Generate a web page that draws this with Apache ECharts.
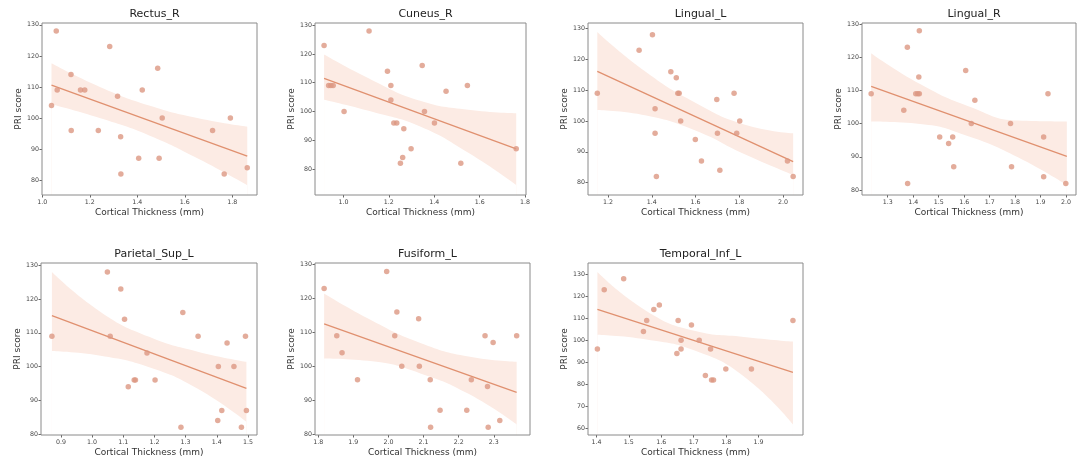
<!DOCTYPE html>
<html>
<head>
    <meta http-equiv="Content-Type" content="text/html; charset=UTF-8">
    <script type="text/javascript" src="https://cdn.jsdelivr.net/npm/echarts@6/dist/echarts.min.js" charset="utf-8"></script>
    <style>
        html, body { margin: 0; padding: 0; background: #fff; }
        #main { width: 1081px; height: 458px; }
    </style>
</head>
<body>
<div id="main"></div>
<script>
    // 脑区名称
    var regions = ['Rectus_R', 'Cuneus_R', 'Lingual_L', 'Lingual_R', 'Parietal_Sup_L', 'Fusiform_L', 'Temporal_Inf_L'];

    // 皮层厚度 / PRI 分数
    var rectusX = [1.039, 1.059, 1.063, 1.121, 1.122, 1.161, 1.179, 1.236, 1.284, 1.317, 1.330, 1.331, 1.406, 1.421, 1.486, 1.492, 1.505, 1.717, 1.766, 1.792, 1.863];
    var rectusY = [104, 128, 109, 114, 96, 109, 109, 96, 123, 107, 94, 82, 87, 109, 116, 87, 100, 96, 82, 100, 84];
    var cuneusX = [0.915, 0.935, 0.945, 0.955, 1.003, 1.113, 1.194, 1.209, 1.209, 1.222, 1.235, 1.251, 1.261, 1.266, 1.298, 1.347, 1.357, 1.401, 1.452, 1.517, 1.546, 1.761];
    var cuneusY = [123, 109, 109, 109, 100, 128, 114, 109, 104, 96, 96, 82, 84, 94, 87, 116, 100, 96, 107, 82, 109, 87];
    var lingualLX = [1.151, 1.342, 1.403, 1.415, 1.415, 1.421, 1.487, 1.512, 1.519, 1.525, 1.532, 1.599, 1.627, 1.697, 1.700, 1.711, 1.776, 1.788, 1.802, 2.020, 2.046];
    var lingualLY = [109, 123, 128, 104, 96, 82, 116, 114, 109, 109, 100, 94, 87, 107, 96, 84, 109, 96, 100, 87, 82];
    var lingualRX = [1.235, 1.363, 1.377, 1.378, 1.410, 1.418, 1.422, 1.424, 1.424, 1.504, 1.539, 1.555, 1.559, 1.606, 1.628, 1.642, 1.782, 1.786, 1.912, 1.912, 1.929, 1.999];
    var lingualRY = [109, 104, 123, 82, 109, 109, 114, 109, 128, 96, 94, 96, 87, 116, 100, 107, 100, 87, 96, 84, 109, 82];
    var parietalX = [0.871, 1.049, 1.058, 1.092, 1.104, 1.116, 1.135, 1.139, 1.176, 1.202, 1.285, 1.291, 1.340, 1.403, 1.405, 1.416, 1.433, 1.455, 1.479, 1.492, 1.495];
    var parietalY = [109, 128, 109, 123, 114, 94, 96, 96, 104, 96, 82, 116, 109, 84, 100, 87, 107, 100, 82, 109, 87];
    var fusiformX = [1.817, 1.853, 1.868, 1.912, 1.995, 2.018, 2.024, 2.038, 2.086, 2.088, 2.119, 2.120, 2.147, 2.223, 2.236, 2.275, 2.282, 2.284, 2.298, 2.317, 2.365];
    var fusiformY = [123, 109, 104, 96, 128, 109, 116, 100, 114, 100, 96, 82, 87, 87, 96, 109, 94, 82, 107, 84, 109];
    var temporalX = [1.403, 1.424, 1.484, 1.545, 1.555, 1.577, 1.594, 1.648, 1.652, 1.661, 1.661, 1.693, 1.717, 1.736, 1.752, 1.755, 1.761, 1.799, 1.878, 2.006];
    var temporalY = [96, 123, 128, 104, 109, 114, 116, 94, 109, 100, 96, 107, 100, 84, 96, 82, 82, 87, 87, 109];

    // 回归线两端
    var rectusFit = [[1.039, 110.6], [1.863, 87.7]];
    var cuneusFit = [[0.915, 111.5], [1.761, 87.0]];
    var lingualLFit = [[1.151, 116.1], [2.046, 86.8]];
    var lingualRFit = [[1.235, 111.2], [2.003, 90.1]];
    var parietalFit = [[0.871, 115.1], [1.495, 93.5]];
    var fusiformFit = [[1.817, 112.5], [2.365, 92.3]];
    var temporalFit = [[1.403, 114.0], [2.006, 85.4]];

    // 置信区间 (x, 下界, 上界)
    var rectusBandX = [1.039, 1.245, 1.45, 1.657, 1.863];
    var rectusBandLo = [104.4, 99.9, 94.4, 86.9, 78.4];
    var rectusBandHi = [117.6, 109.9, 104.0, 99.9, 97.2];
    var cuneusBandX = [0.915, 1.127, 1.338, 1.55, 1.761];
    var cuneusBandLo = [104.1, 99.9, 94.75, 85.6, 74.4];
    var cuneusBandHi = [119.8, 110.9, 103.75, 100.6, 99.4];
    var lingualLBandX = [1.151, 1.375, 1.599, 1.822, 2.046];
    var lingualLBandLo = [103.6, 101.8, 96.95, 89.3, 82.5];
    var lingualLBandHi = [128.9, 115.8, 105.95, 98.9, 96.0];
    var lingualRBandX = [1.235, 1.427, 1.619, 1.811, 2.003];
    var lingualRBandLo = [100.6, 99.9, 96.15, 89.9, 81.5];
    var lingualRBandHi = [121.2, 111.9, 105.15, 100.9, 100.6];
    var parietalBandX = [0.871, 1.027, 1.183, 1.339, 1.495];
    var parietalBandLo = [104.6, 103.2, 99.8, 93.4, 83.6];
    var parietalBandHi = [128.0, 116.2, 108.8, 104.4, 101.4];
    var fusiformBandX = [1.817, 1.954, 2.091, 2.228, 2.365];
    var fusiformBandLo = [102.3, 101.45, 97.9, 91.85, 82.8];
    var fusiformBandHi = [121.5, 113.45, 106.9, 102.85, 101.3];
    var temporalBandX = [1.403, 1.554, 1.705, 1.855, 2.006];
    var temporalBandLo = [102.5, 100.35, 95.2, 83.55, 61.8];
    var temporalBandHi = [131.0, 113.35, 104.2, 101.55, 99.4];

    // 刻度
    var xTicksA = [1.0, 1.2, 1.4, 1.6, 1.8];
    var xTicksC = [1.2, 1.4, 1.6, 1.8, 2.0];
    var xTicksD = [1.3, 1.4, 1.5, 1.6, 1.7, 1.8, 1.9, 2.0];
    var xTicksE = [0.9, 1.0, 1.1, 1.2, 1.3, 1.4, 1.5];
    var xTicksF = [1.8, 1.9, 2.0, 2.1, 2.2, 2.3];
    var xTicksG = [1.4, 1.5, 1.6, 1.7, 1.8, 1.9];
    var yTicks = [80, 90, 100, 110, 120, 130];
    var yTicksG = [60, 70, 80, 90, 100, 110, 120, 130];

    var panels = [
        {x: rectusX, y: rectusY, fit: rectusFit, bx: rectusBandX, lo: rectusBandLo, hi: rectusBandHi, xt: xTicksA, yt: yTicks,
            grid: [42, 23, 215, 172], xr: [0.999, 1.904], yr: [75.2, 130.6]},
        {x: cuneusX, y: cuneusY, fit: cuneusFit, bx: cuneusBandX, lo: cuneusBandLo, hi: cuneusBandHi, xt: xTicksA, yt: yTicks,
            grid: [315, 23, 211, 172], xr: [0.875, 1.804], yr: [70.9, 130.8]},
        {x: lingualLX, y: lingualLY, fit: lingualLFit, bx: lingualLBandX, lo: lingualLBandLo, hi: lingualLBandHi, xt: xTicksC, yt: yTicks,
            grid: [588, 23, 215, 172], xr: [1.1085, 2.091], yr: [76.0, 131.8]},
        {x: lingualRX, y: lingualRY, fit: lingualRFit, bx: lingualRBandX, lo: lingualRBandLo, hi: lingualRBandHi, xt: xTicksD, yt: yTicks,
            grid: [862, 23, 214, 172], xr: [1.199, 2.039], yr: [78.5, 130.3]},
        {x: parietalX, y: parietalY, fit: parietalFit, bx: parietalBandX, lo: parietalBandLo, hi: parietalBandHi, xt: xTicksE, yt: yTicks,
            grid: [41, 263, 216, 172], xr: [0.836, 1.529], yr: [79.7, 130.7]},
        {x: fusiformX, y: fusiformY, fit: fusiformFit, bx: fusiformBandX, lo: fusiformBandLo, hi: fusiformBandHi, xt: xTicksF, yt: yTicks,
            grid: [315, 263, 215, 172], xr: [1.791, 2.403], yr: [79.7, 130.5]},
        {x: temporalX, y: temporalY, fit: temporalFit, bx: temporalBandX, lo: temporalBandLo, hi: temporalBandHi, xt: xTicksG, yt: yTicksG,
            grid: [588, 263, 215, 173], xr: [1.374, 2.037], yr: [57.0, 135.1]}
    ];

    var font = 'DejaVu Sans';
    var pointColor = '#dc9782';
    var lineColor = '#e0906f';
    var bandColor = '#fcebe4';

    var grids = [], xAxes = [], yAxes = [], titles = [], series = [];

    panels.forEach(function (p, i) {
        grids.push({
            left: p.grid[0], top: p.grid[1], width: p.grid[2], height: p.grid[3],
            show: true, z: 10, borderColor: '#8a8a8a', borderWidth: 1, backgroundColor: 'transparent'
        });
        titles.push({
            text: regions[i],
            left: p.grid[0] + p.grid[2] / 2, top: p.grid[1] - 19,
            textAlign: 'center',
            textStyle: {fontFamily: font, fontSize: 11, fontWeight: 'normal', color: '#222'}
        });
        xAxes.push({
            type: 'value', gridIndex: i, min: p.xr[0], max: p.xr[1],
            name: 'Cortical Thickness (mm)', nameLocation: 'middle', nameGap: 13,
            nameTextStyle: {fontFamily: font, fontSize: 9, color: '#333'},
            axisLine: {show: false},
            axisTick: {show: true, length: 2.5, customValues: p.xt, lineStyle: {color: '#666'}},
            axisLabel: {customValues: p.xt, fontFamily: font, fontSize: 6.3, color: '#444', margin: 4,
                formatter: function (v) { return v.toFixed(1); }},
            splitLine: {show: false}
        });
        yAxes.push({
            type: 'value', gridIndex: i, min: p.yr[0], max: p.yr[1],
            name: 'PRI score', nameLocation: 'middle', nameGap: 18,
            nameTextStyle: {fontFamily: font, fontSize: 9, color: '#333'},
            axisLine: {show: false},
            axisTick: {show: true, length: 2.5, customValues: p.yt, lineStyle: {color: '#666'}},
            axisLabel: {customValues: p.yt, fontFamily: font, fontSize: 6.3, color: '#444', margin: 3},
            splitLine: {show: false}
        });

        // 置信区间带：上界向下填色，再用白色从下界向下盖住
        series.push({
            type: 'line', xAxisIndex: i, yAxisIndex: i, smooth: true,
            symbol: 'none', silent: true, lineStyle: {width: 0, opacity: 0},
            areaStyle: {color: bandColor, opacity: 1, origin: 'start'},
            data: p.bx.map(function (x, k) { return [x, p.hi[k]]; }), z: 1
        });
        series.push({
            type: 'line', xAxisIndex: i, yAxisIndex: i, smooth: true,
            symbol: 'none', silent: true, lineStyle: {width: 0, opacity: 0},
            areaStyle: {color: '#ffffff', opacity: 1, origin: 'start'},
            data: p.bx.map(function (x, k) { return [x, p.lo[k]]; }), z: 1.5
        });
        series.push({
            type: 'line', xAxisIndex: i, yAxisIndex: i, symbol: 'none', silent: true,
            lineStyle: {color: lineColor, width: 1.3}, data: p.fit, z: 3
        });
        series.push({
            type: 'scatter', xAxisIndex: i, yAxisIndex: i, symbolSize: 5.5,
            itemStyle: {color: pointColor},
            data: p.x.map(function (x, k) { return [x, p.y[k]]; }), z: 4
        });
    });

    var myChart = echarts.init(document.getElementById('main'), null, {renderer: 'canvas'});
    myChart.setOption({
        animation: false,
        backgroundColor: '#ffffff',
        title: titles,
        grid: grids,
        xAxis: xAxes,
        yAxis: yAxes,
        series: series
    });
</script>
</body>
</html>
